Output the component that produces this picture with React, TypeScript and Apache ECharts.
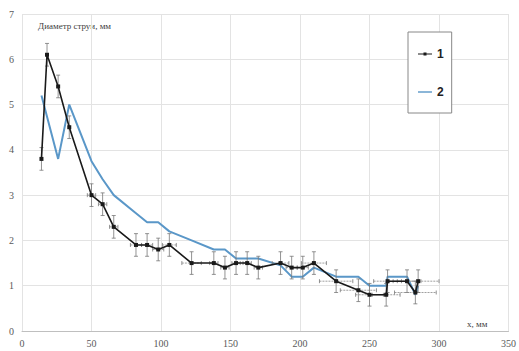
import React, { useEffect, useRef } from "react";
import * as echarts from "echarts";

const x1 = [14, 18, 26, 34, 50, 58, 66, 82, 90, 98, 106, 122, 138, 146, 154, 162, 170, 186, 194, 202, 210, 226, 242, 250, 262, 263, 277, 283, 285];
const y1 = [3.8, 6.1, 5.4, 4.5, 3.0, 2.8, 2.3, 1.9, 1.9, 1.8, 1.9, 1.5, 1.5, 1.4, 1.5, 1.5, 1.4, 1.5, 1.4, 1.4, 1.5, 1.1, 0.9, 0.8, 0.8, 1.1, 1.1, 0.85, 1.1];
const xErr1 = [0, 0, 0, 0, 3, 3, 3, 4, 4, 4, 5, 7, 3, 3, 3, 3, 3, 6, 4, 4, 9, 12, 13, 10, 10, 10, 10, 15, 15];
const yErr1 = [0.25, 0.25, 0.25, 0.25, 0.25, 0.25, 0.25, 0.25, 0.25, 0.25, 0.25, 0.25, 0.25, 0.25, 0.25, 0.25, 0.25, 0.25, 0.25, 0.25, 0.25, 0.25, 0.25, 0.25, 0.25, 0.25, 0.25, 0.25, 0.25];

const x2 = [14, 26, 34, 50, 58, 66, 82, 90, 98, 106, 122, 138, 146, 154, 170, 186, 194, 202, 210, 226, 242, 250, 262, 263, 277, 283, 285];
const y2 = [5.2, 3.8, 5.0, 3.75, 3.35, 3.0, 2.6, 2.4, 2.4, 2.2, 2.0, 1.8, 1.8, 1.6, 1.6, 1.45, 1.2, 1.2, 1.4, 1.2, 1.2, 1.0, 1.0, 1.2, 1.2, 0.8, 1.0];

const seriesNames = ["1", "2"];
const yTitle = "Диаметр струи, мм";
const xTitle = "x, мм";

export default function App() {
  const ref = useRef<HTMLDivElement>(null);
  useEffect(() => {
    if (!ref.current) return;
    const chart = echarts.init(ref.current, undefined, { renderer: "svg" });
    const errData = x1.map((x, i) => [x, y1[i], xErr1[i], yErr1[i]]);
    const labelStyle = { fontFamily: "Liberation Serif", fontSize: 10, color: "#595959" };
    chart.setOption({
      animation: false,
      backgroundColor: "#ffffff",
      grid: { left: 22, right: 7, top: 14, bottom: 20, containLabel: false },
      xAxis: {
        type: "value",
        min: 0,
        max: 350,
        interval: 50,
        axisLine: { show: true, lineStyle: { color: "#bfbfbf" } },
        axisTick: { show: false },
        axisLabel: { ...labelStyle, margin: 7 },
        splitLine: { show: true, lineStyle: { color: "#e3e3e3" } },
      },
      yAxis: {
        type: "value",
        min: 0,
        max: 7,
        interval: 1,
        axisLine: { show: false },
        axisTick: { show: false },
        axisLabel: { ...labelStyle, margin: 8 },
        splitLine: { show: true, lineStyle: { color: "#e3e3e3" } },
      },
      legend: {
        data: [
          { name: seriesNames[0], icon: "path://M0,3.4h14v1.2h-14z M5.5,2.5h3v3h-3z" },
          { name: seriesNames[1], icon: "path://M0,3.3h14v1.4h-14z" },
        ],
        orient: "vertical",
        left: 408,
        top: 32,
        width: 44,
        padding: [16, 8, 15, 10],
        itemGap: 26,
        itemWidth: 14,
        itemHeight: 8,
        borderColor: "#888",
        borderWidth: 1,
        backgroundColor: "#fff",
        textStyle: { fontFamily: "Liberation Sans", fontSize: 12, fontWeight: "bold", color: "#222" },
      },
      graphic: [
        {
          type: "text",
          left: 38,
          top: 21,
          style: { text: yTitle, fontFamily: "Liberation Serif", fontSize: 9, fill: "#404040" },
        },
        {
          type: "text",
          left: 467,
          top: 319,
          style: { text: xTitle, fontFamily: "Liberation Serif", fontSize: 9, fill: "#404040" },
        },
      ],
      series: [
        {
          name: "2",
          type: "line",
          data: x2.map((x, i) => [x, y2[i]]),
          showSymbol: false,
          symbol: "none",
          lineStyle: { color: "#5a97c8", width: 2 },
          itemStyle: { color: "#5a97c8" },
          z: 2,
        },
        {
          name: "err",
          type: "custom",
          data: errData,
          z: 3,
          silent: true,
          renderItem: (params: any, api: any) => {
            const x = api.value(0);
            const y = api.value(1);
            const xe = api.value(2);
            const ye = api.value(3);
            const top = api.coord([x, y + ye]);
            const bot = api.coord([x, y - ye]);
            const lft = api.coord([x - xe, y]);
            const rgt = api.coord([x + xe, y]);
            const st = { stroke: "#777", lineWidth: 0.8 };
            const c = 2;
            const children: any[] = [
              { type: "line", shape: { x1: top[0], y1: top[1], x2: bot[0], y2: bot[1] }, style: st },
              { type: "line", shape: { x1: top[0] - c, y1: top[1], x2: top[0] + c, y2: top[1] }, style: st },
              { type: "line", shape: { x1: bot[0] - c, y1: bot[1], x2: bot[0] + c, y2: bot[1] }, style: st },
            ];
            if (xe > 0) {
              children.push(
                { type: "line", shape: { x1: lft[0], y1: lft[1], x2: rgt[0], y2: rgt[1] }, style: { stroke: "#888", lineWidth: 0.8, lineDash: [2, 1] } },
                { type: "line", shape: { x1: lft[0], y1: lft[1] - c, x2: lft[0], y2: lft[1] + c }, style: st },
                { type: "line", shape: { x1: rgt[0], y1: rgt[1] - c, x2: rgt[0], y2: rgt[1] + c }, style: st }
              );
            }
            return { type: "group", children };
          },
        },
        {
          name: "1",
          type: "line",
          data: x1.map((x, i) => [x, y1[i]]),
          symbol: "rect",
          symbolSize: 4,
          lineStyle: { color: "#1a1a1a", width: 1.6 },
          itemStyle: { color: "#1a1a1a" },
          z: 4,
        },
      ],
    });
    return () => chart.dispose();
  }, []);
  return <div ref={ref} style={{ width: 519, height: 351, position: "absolute", left: 0, top: 0 }} />;
}
